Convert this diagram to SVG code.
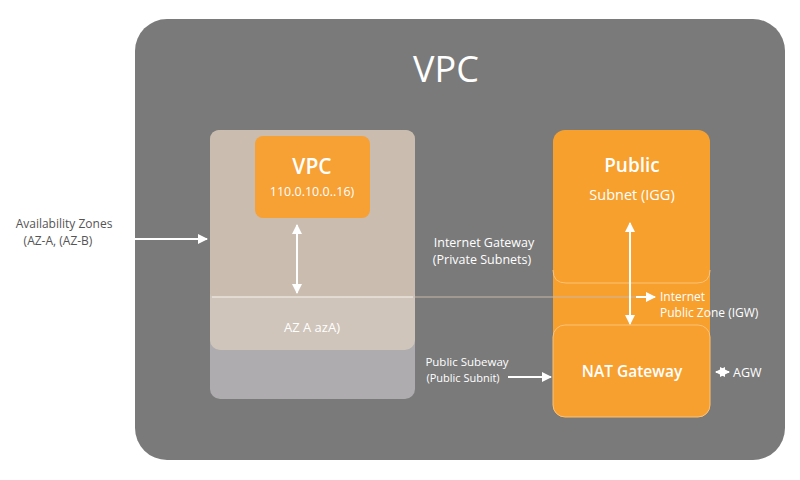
<svg xmlns="http://www.w3.org/2000/svg" width="800" height="480" viewBox="0 0 800 480">
<defs>
<style>
text{font-family:"Open Sans","Noto Sans","Liberation Sans",sans-serif;}
.w{fill:#ffffff;}
.d{fill:#555555;}
.c{text-anchor:middle;}
.ln{stroke:#ffffff;stroke-width:2;fill:none;}
</style>
<marker id="ah" viewBox="0 0 10 10" refX="9" refY="5" markerWidth="5" markerHeight="5" orient="auto-start-reverse">
<path d="M0,0 L10,5 L0,10 z" fill="#ffffff"/>
</marker>
</defs>
<rect width="800" height="480" fill="#ffffff"/>
<g id="vpc-outer">
<rect x="135" y="19" width="650" height="441" rx="32" fill="#7a7a7a"/>
<text x="446" y="82" class="w c" font-size="36">VPC</text>
</g>
<g id="az-panel">
<rect x="210" y="300" width="205" height="99" rx="10" fill="#aeacae"/>
<rect x="210" y="130" width="205" height="220" rx="10" fill="#cfc5ba"/>
<path d="M210,293 L210,140 Q210,130 220,130 L405,130 Q415,130 415,140 L415,293 Q415,297 410,297 L215,297 Q210,297 210,293 z" fill="#cabdaf"/>
<line x1="212" y1="297" x2="413" y2="297" stroke="#eae3dc" stroke-width="1.5"/>
<text x="312" y="332" class="w c" font-size="13">AZ A azA)</text>
</g>
<g id="vpc-box">
<rect x="255" y="136" width="115" height="82" rx="8" fill="#f7a034"/>
<text x="312" y="174" class="w c" font-size="21" font-weight="600">VPC</text>
<text x="312" y="196" class="w c" font-size="12.5">110.0.10.0..16)</text>
</g>
<g id="public-subnet">
<rect x="553" y="130" width="157" height="287" rx="12" fill="#f7a02e"/>
<path d="M553,270 Q553,283 566,283 L697,283 Q710,283 710,270" stroke="#fbc277" stroke-width="1" fill="none"/>
<text x="632" y="172" class="w c" font-size="19" font-weight="600">Public</text>
<text x="632" y="200" class="w c" font-size="14.5">Subnet (IGG)</text>
</g>
<g id="nat-gateway">
<rect x="553" y="325" width="157" height="92" rx="12" fill="#f8a02f" stroke="#fbc277" stroke-width="1"/>
<text x="632" y="377" class="w c" font-size="15.5" font-weight="600">NAT Gateway</text>
</g>
<g id="labels">
<text x="64" y="228" class="d c" font-size="12">Availability Zones</text>
<text x="58" y="245" class="d c" font-size="12">(AZ-A, (AZ-B)</text>
<text x="484" y="247" class="w c" font-size="12.5">Internet Gateway</text>
<text x="482" y="264" class="w c" font-size="12.5">(Private Subnets)</text>
<text x="467" y="366" class="w c" font-size="11.5">Public Subeway</text>
<text x="463" y="382" class="w c" font-size="11">(Public Subnit)</text>
<text x="660" y="301" class="w" font-size="12">Internet</text>
<text x="660" y="317" class="w" font-size="12">Public Zone (IGW)</text>
<text x="733" y="377" class="w" font-size="12.5">AGW</text>
</g>
<g id="connectors">
<line x1="104" y1="239" x2="207" y2="239" class="ln" stroke-width="1.5" marker-end="url(#ah)"/>
<line x1="297" y1="225" x2="297" y2="293" class="ln" marker-start="url(#ah)" marker-end="url(#ah)"/>
<line x1="415" y1="297" x2="640" y2="297" stroke="#c8b8a8" stroke-width="1"/>
<line x1="636" y1="297" x2="655" y2="297" class="ln" stroke-width="1.5" marker-end="url(#ah)"/>
<line x1="630" y1="223" x2="630" y2="324" class="ln" marker-start="url(#ah)" marker-end="url(#ah)"/>
<line x1="508" y1="377" x2="551" y2="377" class="ln" marker-end="url(#ah)"/>
<line x1="716" y1="372" x2="729" y2="372" class="ln" stroke-width="1.5" marker-start="url(#ah)" marker-end="url(#ah)"/>
</g>
</svg>
